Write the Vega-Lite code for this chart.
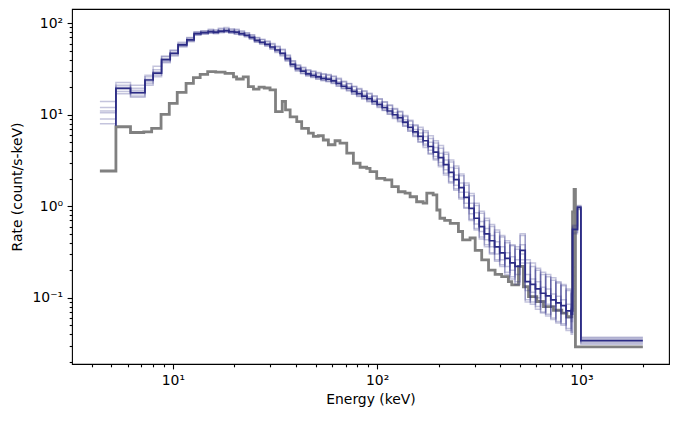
{
"$schema": "https://vega.github.io/schema/vega-lite/v6.json",
"width": 597, "height": 355,
"autosize": {"type": "none"},
"padding": {"left": 72, "top": 9, "right": 10, "bottom": 58},
"background": "white",
"config": {
  "view": {"stroke": "#000000", "strokeWidth": 1.1},
  "font": "DejaVu Sans",
  "axis": {"grid": false, "domain": false, "tickColor": "#000000", "tickWidth": 1.1, "labelColor": "#000000", "titleColor": "#000000", "labelFont": "DejaVu Sans", "titleFont": "DejaVu Sans", "labelFontSize": 13.9, "titleFontSize": 13.9, "titleFontWeight": "normal"}
},
"datasets": {
"bkg": [
{"e":4.39,"r":2.43},{"e":5.26,"r":7.4},{"e":6.2,"r":6.4},{"e":7.2,"r":6.5},{"e":7.87,"r":7.1},{"e":8.75,"r":10.1},{"e":9.6,"r":13.3},{"e":10.5,"r":17.6},{"e":11.6,"r":22},{"e":12.6,"r":25.4},{"e":13.6,"r":27.7},{"e":14.8,"r":29.6},{"e":16.2,"r":29.2},{"e":18.0,"r":28.4},{"e":19.8,"r":26},{"e":20.5,"r":24.6},{"e":22.1,"r":26},{"e":23.4,"r":20.3},{"e":24.8,"r":19.1},{"e":26.4,"r":20},{"e":28.0,"r":19.6},{"e":29.9,"r":18.7},{"e":31.8,"r":10.8},{"e":34.3,"r":14},{"e":35.6,"r":11.3},{"e":37.5,"r":9.5},{"e":40.4,"r":8.4},{"e":42.7,"r":7.1},{"e":46.1,"r":6.3},{"e":48.7,"r":5.8},{"e":51.5,"r":5.9},{"e":54.5,"r":5.3},{"e":57.7,"r":4.7},{"e":62.2,"r":5.2},{"e":65.8,"r":4.9},{"e":71,"r":3.8},{"e":76.5,"r":2.95},{"e":82.5,"r":2.67},{"e":88.9,"r":2.6},{"e":92.3,"r":2.39},{"e":99.5,"r":2.02},{"e":109,"r":1.94},{"e":118,"r":1.64},{"e":127,"r":1.44},{"e":137,"r":1.39},{"e":145,"r":1.27},{"e":156,"r":1.12},{"e":168,"r":1.08},{"e":175,"r":1.39},{"e":188,"r":1.33},{"e":196,"r":0.91},{"e":203,"r":0.74},{"e":214,"r":0.7},{"e":228,"r":0.65},{"e":250,"r":0.53},{"e":262,"r":0.43},{"e":285,"r":0.45},{"e":302,"r":0.33},{"e":325,"r":0.26},{"e":351,"r":0.2},{"e":378,"r":0.18},{"e":407,"r":0.17},{"e":439,"r":0.15},{"e":456,"r":0.138},{"e":492,"r":0.22},{"e":520,"r":0.132},{"e":551,"r":0.103},{"e":605,"r":0.091},{"e":652,"r":0.08},{"e":730,"r":0.073},{"e":802,"r":0.068},{"e":849,"r":0.062},{"e":898,"r":0.073},{"e":905,"r":0.87},{"e":921,"r":1.53},{"e":935,"r":0.029},{"e":2000,"r":0.029}
],
"src": [
{"i":0,"e":4.39,"m":null,"a":9,"b":12,"c":10.5,"d":14,"f":8,"g":11},
{"i":1,"e":5.26,"m":7.6,"a":9,"b":12,"c":10.5,"d":14,"f":8,"g":11},
{"i":2,"e":5.26,"m":19.5,"a":17,"b":21,"c":19,"d":22.5,"f":18,"g":20},
{"i":3,"e":6.2,"m":17.5,"a":19.5,"b":16,"c":21,"d":17,"f":18.5,"g":15.5},
{"i":4,"e":7.3,"m":24,"a":22,"b":27,"c":24.5,"d":26,"f":21,"g":23},
{"i":5,"e":8.0,"m":28.5,"a":31,"b":26,"c":34,"d":27,"f":28,"g":29.5},
{"i":6,"e":8.8,"m":40,"a":44,"b":37,"c":38,"d":41,"f":39,"g":43},
{"i":7,"e":9.7,"m":47,"a":45,"b":50,"c":48,"d":44,"f":51,"g":46},
{"i":8,"e":10.6,"m":58,"a":62,"b":55,"c":56,"d":59,"f":57,"g":60},
{"i":9,"e":11.7,"m":66,"a":63,"b":69,"c":67,"d":64,"f":70,"g":65},
{"i":10,"e":12.7,"m":77,"a":80,"b":74,"c":75,"d":78,"f":76,"g":81},
{"i":11,"e":13.7,"m":79,"a":76,"b":82,"c":80,"d":77,"f":83,"g":78},
{"i":12,"e":14.9,"m":81,"a":84,"b":78,"c":79,"d":82,"f":80,"g":86},
{"i":13,"e":15.8,"m":80,"a":77,"b":83,"c":81,"d":78,"f":85,"g":79},
{"i":14,"e":16.7,"m":82,"a":86,"b":79,"c":80,"d":83,"f":81,"g":88},
{"i":15,"e":17.8,"m":83,"a":80,"b":87,"c":84,"d":81,"f":90,"g":82},
{"i":16,"e":18.8,"m":81,"a":85,"b":78,"c":79,"d":82,"f":80,"g":87},
{"i":17,"e":20.0,"m":80,"a":76,"b":84,"c":81,"d":77,"f":86,"g":79},
{"i":18,"e":21.1,"m":77,"a":81,"b":74,"c":75,"d":78,"f":76,"g":83},
{"i":19,"e":22.4,"m":74,"a":71,"b":78,"c":75,"d":72,"f":79,"g":73},
{"i":20,"e":23.7,"m":70,"a":74,"b":67,"c":68,"d":71,"f":69,"g":75},
{"i":21,"e":25.1,"m":65,"a":62,"b":69,"c":66,"d":63,"f":70,"g":64},
{"i":22,"e":26.6,"m":62,"a":66,"b":59,"c":60,"d":63,"f":61,"g":67},
{"i":23,"e":28.2,"m":59,"a":56,"b":63,"c":60,"d":57,"f":64,"g":58},
{"i":24,"e":29.9,"m":55,"a":59,"b":52,"c":53,"d":56,"f":54,"g":60},
{"i":25,"e":31.6,"m":51,"a":48,"b":55,"c":52,"d":49,"f":56,"g":50},
{"i":26,"e":33.5,"m":47,"a":51,"b":44,"c":45,"d":48,"f":46,"g":52},
{"i":27,"e":35.5,"m":41,"a":38.5,"b":44,"c":42,"d":39.5,"f":45,"g":40},
{"i":28,"e":37.6,"m":35.5,"a":38.5,"b":33.5,"c":34,"d":36.5,"f":35,"g":39},
{"i":29,"e":39.8,"m":32,"a":30,"b":34.5,"c":33,"d":30.5,"f":35,"g":31.5},
{"i":30,"e":42.2,"m":30,"a":32.5,"b":28,"c":28.5,"d":31,"f":29.5,"g":33},
{"i":31,"e":44.7,"m":28,"a":26.5,"b":30.5,"c":29,"d":26.8,"f":31,"g":27.5},
{"i":32,"e":47.3,"m":27,"a":29.5,"b":25.5,"c":25.8,"d":28,"f":26.5,"g":30},
{"i":33,"e":50.1,"m":26,"a":24.5,"b":28.5,"c":27,"d":24.8,"f":29,"g":25.5},
{"i":34,"e":53.1,"m":25,"a":27.5,"b":23.5,"c":23.8,"d":26,"f":24.5,"g":28},
{"i":35,"e":56.2,"m":24.5,"a":23,"b":27,"c":25.5,"d":23.2,"f":27.5,"g":24},
{"i":36,"e":59.6,"m":23.5,"a":26,"b":22,"c":22.3,"d":24.5,"f":23,"g":26.5},
{"i":37,"e":63.1,"m":22,"a":20.5,"b":24.5,"c":23,"d":20.8,"f":25,"g":21.5},
{"i":38,"e":66.8,"m":20.5,"a":22.8,"b":19.2,"c":19.5,"d":21.3,"f":20.1,"g":23.2},
{"i":39,"e":70.8,"m":19.5,"a":18.2,"b":21.8,"c":20.3,"d":18.5,"f":22,"g":19.1},
{"i":40,"e":75.0,"m":18,"a":20.2,"b":16.8,"c":17,"d":18.8,"f":17.6,"g":20.5},
{"i":41,"e":79.4,"m":17,"a":15.8,"b":19,"c":17.8,"d":16,"f":19.4,"g":16.6},
{"i":42,"e":84.1,"m":16,"a":18,"b":14.9,"c":15.1,"d":16.8,"f":15.6,"g":18.3},
{"i":43,"e":89.1,"m":15,"a":13.9,"b":16.9,"c":15.7,"d":14.1,"f":17.2,"g":14.6},
{"i":44,"e":94.4,"m":14,"a":15.8,"b":13,"c":13.1,"d":14.7,"f":13.6,"g":16.1},
{"i":45,"e":100,"m":13,"a":12,"b":14.8,"c":13.7,"d":12.2,"f":15,"g":12.6},
{"i":46,"e":105.9,"m":12,"a":13.7,"b":11.1,"c":11.2,"d":12.6,"f":11.6,"g":13.9},
{"i":47,"e":112.2,"m":11,"a":10.1,"b":12.6,"c":11.6,"d":10.2,"f":12.8,"g":10.6},
{"i":48,"e":118.9,"m":10,"a":11.5,"b":9.1,"c":9.3,"d":10.6,"f":9.7,"g":11.7},
{"i":49,"e":125.9,"m":9.3,"a":8.4,"b":10.7,"c":9.9,"d":8.6,"f":10.9,"g":9.0},
{"i":50,"e":133.4,"m":8.3,"a":9.6,"b":7.5,"c":7.6,"d":8.8,"f":8.0,"g":9.8},
{"i":51,"e":141.3,"m":7.3,"a":6.6,"b":8.5,"c":7.8,"d":6.7,"f":8.7,"g":7.0},
{"i":52,"e":149.6,"m":6.5,"a":7.6,"b":5.8,"c":5.9,"d":6.9,"f":6.2,"g":7.8},
{"i":53,"e":158.5,"m":5.8,"a":5.0,"b":6.9,"c":6.3,"d":5.1,"f":7.3,"g":5.4},
{"i":54,"e":167.9,"m":5.2,"a":6.4,"b":4.4,"c":4.6,"d":5.8,"f":4.8,"g":6.7},
{"i":55,"e":177.8,"m":4.5,"a":3.7,"b":5.5,"c":5.0,"d":3.8,"f":5.9,"g":4.1},
{"i":56,"e":188.4,"m":3.9,"a":4.9,"b":3.2,"c":3.3,"d":4.4,"f":3.5,"g":5.2},
{"i":57,"e":199.5,"m":3.4,"a":2.7,"b":4.3,"c":3.8,"d":2.8,"f":4.6,"g":3.0},
{"i":58,"e":211.3,"m":2.85,"a":3.7,"b":2.2,"c":2.3,"d":3.2,"f":2.5,"g":3.9},
{"i":59,"e":223.9,"m":2.35,"a":1.8,"b":3.05,"c":2.65,"d":1.85,"f":3.2,"g":2.1},
{"i":60,"e":237.1,"m":1.95,"a":2.6,"b":1.5,"c":1.55,"d":2.2,"f":1.7,"g":2.75},
{"i":61,"e":251.2,"m":1.6,"a":1.2,"b":2.15,"c":1.8,"d":1.25,"f":2.25,"g":1.42},
{"i":62,"e":266.1,"m":1.25,"a":1.7,"b":0.95,"c":0.97,"d":1.42,"f":1.08,"g":1.8},
{"i":63,"e":281.8,"m":0.95,"a":0.7,"b":1.3,"c":1.08,"d":0.72,"f":1.38,"g":0.83},
{"i":64,"e":298.5,"m":0.74,"a":1.02,"b":0.55,"c":0.57,"d":0.85,"f":0.64,"g":1.08},
{"i":65,"e":316.2,"m":0.6,"a":0.44,"b":0.84,"c":0.68,"d":0.46,"f":0.88,"g":0.53},
{"i":66,"e":335,"m":0.5,"a":0.7,"b":0.36,"c":0.38,"d":0.57,"f":0.43,"g":0.74},
{"i":67,"e":354.8,"m":0.42,"a":0.3,"b":0.6,"c":0.48,"d":0.31,"f":0.63,"g":0.36},
{"i":68,"e":375.8,"m":0.36,"a":0.52,"b":0.25,"c":0.26,"d":0.41,"f":0.3,"g":0.55},
{"i":69,"e":398.1,"m":0.31,"a":0.22,"b":0.46,"c":0.36,"d":0.23,"f":0.48,"g":0.26},
{"i":70,"e":421.7,"m":0.27,"a":0.4,"b":0.18,"c":0.19,"d":0.31,"f":0.22,"g":0.42},
{"i":71,"e":446.7,"m":0.24,"a":0.16,"b":0.37,"c":0.28,"d":0.17,"f":0.38,"g":0.2},
{"i":72,"e":473.2,"m":0.22,"a":0.34,"b":0.14,"c":0.15,"d":0.26,"f":0.18,"g":0.36},
{"i":73,"e":501.2,"m":0.33,"a":0.26,"b":0.48,"c":0.38,"d":0.24,"f":0.5,"g":0.3},
{"i":74,"e":530.9,"m":0.15,"a":0.24,"b":0.09,"c":0.095,"d":0.18,"f":0.12,"g":0.26},
{"i":75,"e":562.3,"m":0.14,"a":0.085,"b":0.22,"c":0.16,"d":0.09,"f":0.24,"g":0.115},
{"i":76,"e":595.7,"m":0.125,"a":0.2,"b":0.075,"c":0.08,"d":0.15,"f":0.1,"g":0.21},
{"i":77,"e":631,"m":0.112,"a":0.068,"b":0.18,"c":0.13,"d":0.07,"f":0.19,"g":0.09},
{"i":78,"e":668.3,"m":0.105,"a":0.17,"b":0.063,"c":0.066,"d":0.125,"f":0.085,"g":0.18},
{"i":79,"e":707.9,"m":0.095,"a":0.058,"b":0.155,"c":0.11,"d":0.06,"f":0.165,"g":0.08},
{"i":80,"e":749.9,"m":0.088,"a":0.145,"b":0.053,"c":0.055,"d":0.104,"f":0.072,"g":0.15},
{"i":81,"e":794.3,"m":0.082,"a":0.05,"b":0.135,"c":0.095,"d":0.052,"f":0.14,"g":0.068},
{"i":82,"e":841.4,"m":0.072,"a":0.12,"b":0.044,"c":0.046,"d":0.085,"f":0.06,"g":0.125},
{"i":83,"e":891.3,"m":0.066,"a":0.04,"b":0.11,"c":0.077,"d":0.042,"f":0.115,"g":0.055},
{"i":84,"e":905,"m":0.56,"a":0.5,"b":0.62,"c":0.58,"d":0.52,"f":0.6,"g":0.55},
{"i":85,"e":957,"m":0.975,"a":0.92,"b":1.02,"c":0.99,"d":0.94,"f":1.0,"g":0.96},
{"i":86,"e":994,"m":0.034,"a":0.031,"b":0.037,"c":0.035,"d":0.032,"f":0.036,"g":0.033},
{"i":87,"e":2000,"m":0.034,"a":0.031,"b":0.037,"c":0.035,"d":0.032,"f":0.036,"g":0.033}
]
},
"resolve": {"axis": {"x": "independent", "y": "independent"}},
"layer": [
{
  "data": {"name": "bkg"},
  "mark": {"type": "line", "interpolate": "step-after", "color": "#808080", "strokeWidth": 2.8, "clip": true},
  "encoding": {
    "x": {"field": "e", "type": "quantitative", "scale": {"type": "log", "domain": [3.206, 2685], "nice": false},
      "axis": {"orient": "bottom", "values": [10, 100, 1000], "labelExpr": "datum.value == 10 ? '10¹' : datum.value == 100 ? '10²' : '10³'", "tickSize": 4.9, "labelPadding": 4.5, "title": "Energy (keV)", "titlePadding": 5}},
    "y": {"field": "r", "type": "quantitative", "scale": {"type": "log", "domain": [0.01888, 143.2], "nice": false},
      "axis": {"orient": "left", "values": [0.1, 1, 10, 100], "labelExpr": "datum.value > 50 ? '10²' : datum.value > 5 ? '10¹' : datum.value > 0.5 ? '10⁰' : '10⁻¹'", "tickSize": 4.9, "labelPadding": 4.5, "title": "Rate (count/s-keV)", "titlePadding": 8}}
  }
},
{
  "data": {"name": "src"},
  "transform": [{"fold": ["a", "b", "c", "d", "f", "g"], "as": ["k", "v"]}],
  "mark": {"type": "line", "interpolate": "step-after", "color": "#2c2c85", "opacity": 0.28, "strokeWidth": 1.5, "clip": true},
  "encoding": {
    "x": {"field": "e", "type": "quantitative", "scale": {"type": "log", "domain": [3.206, 2685], "nice": false},
      "axis": {"orient": "bottom", "values": [4, 5, 6, 7, 8, 9, 20, 30, 40, 50, 60, 70, 80, 90, 200, 300, 400, 500, 600, 700, 800, 900, 2000], "labels": false, "tickSize": 2.8, "title": null}},
    "y": {"field": "v", "type": "quantitative", "scale": {"type": "log", "domain": [0.01888, 143.2], "nice": false},
      "axis": {"orient": "left", "values": [0.02, 0.03, 0.04, 0.05, 0.06, 0.07, 0.08, 0.09, 0.2, 0.3, 0.4, 0.5, 0.6, 0.7, 0.8, 0.9, 2, 3, 4, 5, 6, 7, 8, 9, 20, 30, 40, 50, 60, 70, 80, 90], "labels": false, "tickSize": 2.8, "title": null}},
    "detail": {"field": "k"},
    "order": {"field": "i", "type": "quantitative"}
  }
},
{
  "data": {"name": "src"},
  "mark": {"type": "line", "interpolate": "step-after", "color": "#2c2c85", "strokeWidth": 1.7, "clip": true},
  "encoding": {
    "x": {"field": "e", "type": "quantitative", "scale": {"type": "log", "domain": [3.206, 2685], "nice": false}, "axis": null},
    "y": {"field": "m", "type": "quantitative", "scale": {"type": "log", "domain": [0.01888, 143.2], "nice": false}, "axis": null},
    "order": {"field": "i", "type": "quantitative"}
  }
}
]
}
